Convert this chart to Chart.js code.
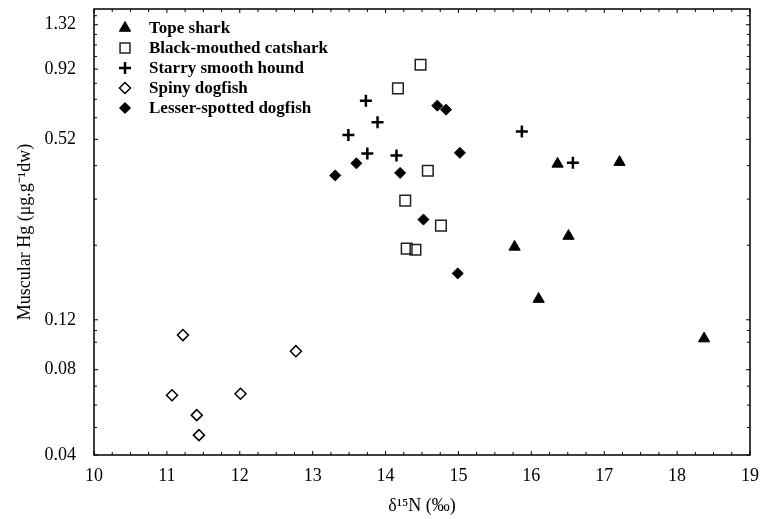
<!DOCTYPE html>
<html>
<head>
<meta charset="utf-8">
<script src="https://cdn.jsdelivr.net/npm/chart.js@4/dist/chart.umd.min.js"></script>
<style>body{margin:0;background:#fff}</style>
</head>
<body>
<canvas id="c" width="760" height="519"></canvas>
<script>
// delta15N (x) and muscular Hg (y) per species
var topeX = [16.36, 17.21, 15.77, 16.51, 16.10, 18.37];
var topeY = [0.426, 0.432, 0.217, 0.237, 0.142, 0.103];
var catX = [14.48, 14.17, 14.58, 14.27, 14.76, 14.29, 14.41];
var catY = [0.953, 0.787, 0.403, 0.316, 0.258, 0.214, 0.212];
var houndX = [13.73, 13.89, 13.49, 13.75, 14.15, 15.87, 16.57];
var houndY = [0.712, 0.597, 0.539, 0.464, 0.456, 0.554, 0.43];
var spinyX = [11.22, 11.07, 11.41, 11.44, 12.01, 12.77];
var spinyY = [0.106, 0.065, 0.0553, 0.047, 0.0658, 0.093];
var lesserX = [14.71, 14.83, 15.02, 13.60, 13.31, 14.20, 14.52, 14.99];
var lesserY = [0.684, 0.662, 0.466, 0.428, 0.388, 0.396, 0.271, 0.175];

var seriesNames = ['Tope shark', 'Black-mouthed catshark', 'Starry smooth hound', 'Spiny dogfish', 'Lesser-spotted dogfish'];

// axis ticks
var yTicks = [0.04, 0.08, 0.12, 0.52, 0.92, 1.32];
var yMinor = [0.05, 0.06, 0.07, 0.10, 0.11, 0.22, 0.32, 0.42, 0.62, 0.72, 0.82, 1.02, 1.12, 1.22, 1.42];
var xMin = 10, xMax = 19;

function pts(xs, ys) {
    return xs.map(function (x, i) { return { x: x, y: ys[i] }; });
}

Chart.defaults.font.family = "'Liberation Serif', 'Times New Roman', serif";
Chart.defaults.color = '#000';

var frame = {
    id: 'frame',
    afterDatasetsDraw: function (chart) {
        var ctx = chart.ctx, a = chart.chartArea;
        var sx = chart.scales.x, sy = chart.scales.y;
        function line(x1, y1, x2, y2) {
            ctx.beginPath(); ctx.moveTo(x1, y1); ctx.lineTo(x2, y2); ctx.stroke();
        }
        ctx.save();
        ctx.strokeStyle = '#000';
        ctx.lineWidth = 1.5;
        ctx.strokeRect(a.left, a.top, a.right - a.left, a.bottom - a.top);
        ctx.lineWidth = 1;
        for (var v = xMin; v <= xMax + 1e-9; v += 0.25) {
            var px = sx.getPixelForValue(v);
            var len = Math.abs(v - Math.round(v)) < 1e-6 ? 4 : 3;
            line(px, a.bottom, px, a.bottom - len);
            line(px, a.top, px, a.top + len);
        }
        yTicks.concat(yMinor).forEach(function (t) {
            var py = sy.getPixelForValue(t);
            var len = yTicks.indexOf(t) >= 0 ? 4 : 3;
            line(a.left, py, a.left + len, py);
            line(a.right, py, a.right - len, py);
        });
        ctx.restore();

        // legend inside plot
        ctx.save();
        ctx.font = 'bold 17px ' + Chart.defaults.font.family;
        ctx.textBaseline = 'middle';
        ctx.textAlign = 'left';
        chart.data.datasets.forEach(function (ds, i) {
            var cy = 28 + i * 20;
            ctx.fillStyle = ds.backgroundColor;
            ctx.strokeStyle = ds.borderColor;
            ctx.lineWidth = ds.borderWidth;
            Chart.helpers.drawPoint(ctx, { pointStyle: ds.pointStyle, radius: ds.legendRadius, rotation: 0, borderWidth: ds.borderWidth }, 125, cy);
            ctx.fillStyle = '#000';
            ctx.fillText(ds.label, 149, cy + 1);
        });
        ctx.restore();
    }
};

new Chart(document.getElementById('c'), {
    type: 'scatter',
    data: {
        datasets: [
            { label: seriesNames[0], data: pts(topeX, topeY), pointStyle: 'triangle', pointRadius: 6.5, legendRadius: 6.5,
              backgroundColor: '#000', borderColor: '#000', borderWidth: 1 },
            { label: seriesNames[1], data: pts(catX, catY), pointStyle: 'rect', pointRadius: 7.5, legendRadius: 7,
              backgroundColor: 'rgba(0,0,0,0)', borderColor: '#222', borderWidth: 1.5 },
            { label: seriesNames[2], data: pts(houndX, houndY), pointStyle: 'cross', pointRadius: 6, legendRadius: 6,
              backgroundColor: '#000', borderColor: '#000', borderWidth: 2.5 },
            { label: seriesNames[3], data: pts(spinyX, spinyY), pointStyle: 'rectRot', pointRadius: 5.5, legendRadius: 5.5,
              backgroundColor: 'rgba(0,0,0,0)', borderColor: '#000', borderWidth: 1.5 },
            { label: seriesNames[4], data: pts(lesserX, lesserY), pointStyle: 'rectRot', pointRadius: 5.5, legendRadius: 5.5,
              backgroundColor: '#000', borderColor: '#000', borderWidth: 1 }
        ]
    },
    options: {
        responsive: false,
        animation: false,
        layout: { padding: { top: 8, right: 10, left: 0, bottom: 0 } },
        plugins: { legend: { display: false }, tooltip: { enabled: false } },
        scales: {
            x: {
                type: 'linear', min: xMin, max: xMax,
                grid: { display: false }, border: { display: false },
                ticks: { stepSize: 1, padding: 2, font: { size: 18 }, maxRotation: 0 },
                title: { display: true, text: 'δ¹⁵N (‰)', font: { size: 18 }, padding: { top: 0, bottom: 2 } },
                afterFit: function (s) { s.height = 64; s.paddingLeft = 0; s.paddingRight = 0; }
            },
            y: {
                type: 'logarithmic', min: 0.04, max: 1.5,
                grid: { display: false }, border: { display: false },
                afterBuildTicks: function (s) { s.ticks = yTicks.map(function (v) { return { value: v }; }); },
                ticks: { padding: 10, font: { size: 18 }, callback: function (v) { return v.toFixed(2); } },
                title: { display: true, text: 'Muscular Hg (μg.g⁻¹dw)', font: { size: 18 }, padding: { top: 14, bottom: 0 } },
                afterFit: function (s) { s.width = 94; s.paddingTop = 0; s.paddingBottom = 0; }
            }
        }
    },
    plugins: [frame]
});
</script>
</body>
</html>
